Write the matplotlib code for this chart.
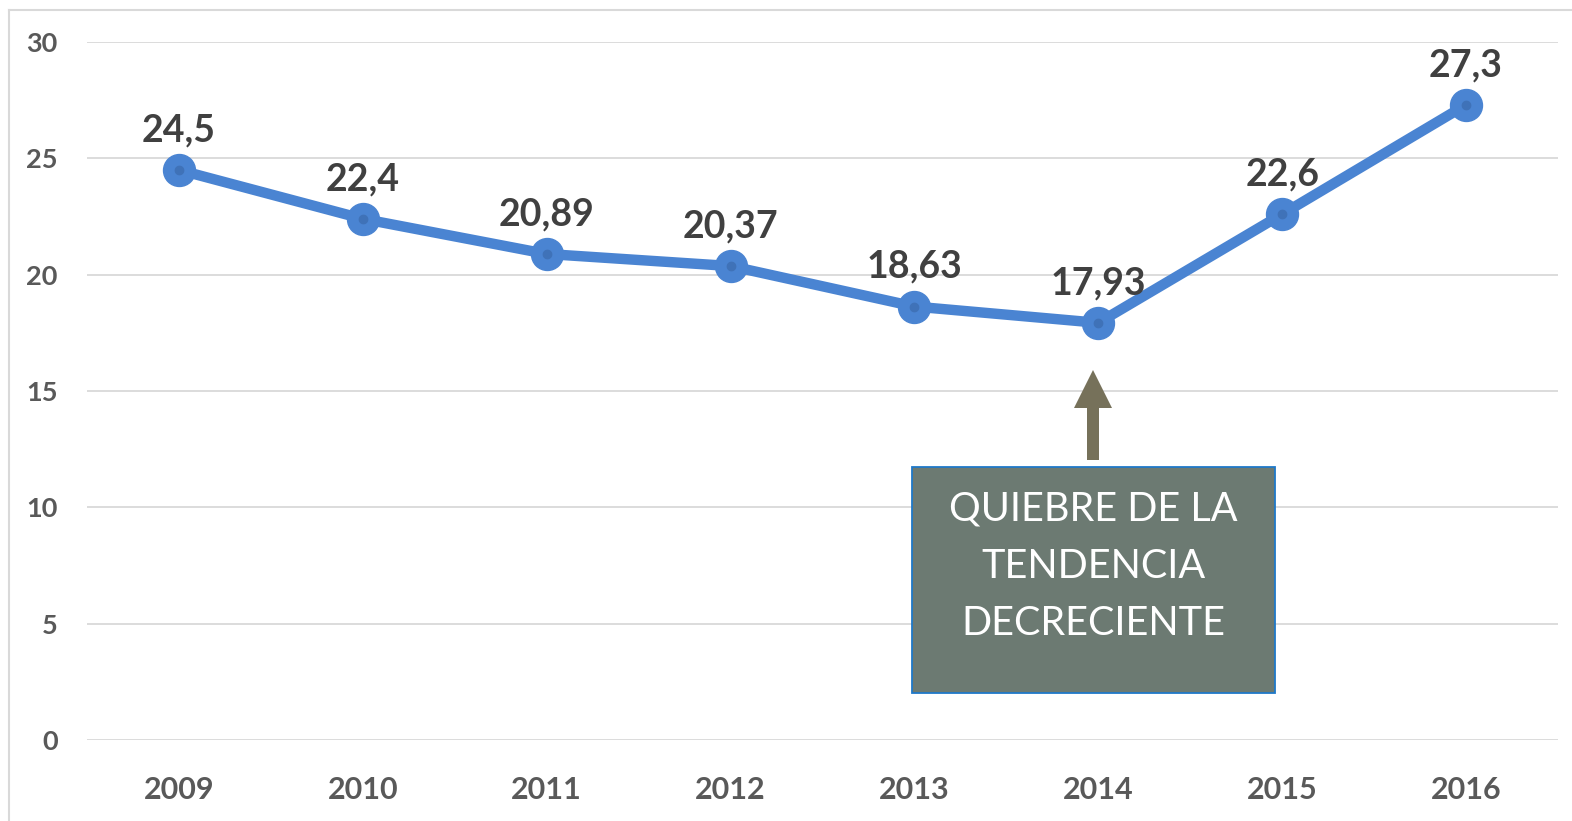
import matplotlib
matplotlib.use("Agg")
import matplotlib.pyplot as plt
from matplotlib.lines import Line2D
from matplotlib.patches import Rectangle, Polygon

years = ["2009", "2010", "2011", "2012", "2013", "2014", "2015", "2016"]
values = [24.5, 22.4, 20.89, 20.37, 18.63, 17.93, 22.6, 27.3]
value_labels = ["24,5", "22,4", "20,89", "20,37", "18,63", "17,93", "22,6", "27,3"]
y_ticks = [0, 5, 10, 15, 20, 25, 30]
note_text = "QUIEBRE DE LA\nTENDENCIA\nDECRECIENTE"

W, H = 1572, 821
fig = plt.figure(figsize=(W / 100, H / 100), dpi=100)
fig.patch.set_facecolor("white")


def fx(px):
    return px / W


def fy(py):
    return 1 - py / H


# outer frame (left and top edges visible)
fig.add_artist(Line2D([fx(9), fx(9)], [0, fy(10)], transform=fig.transFigure,
                      color="#d9d9d9", lw=1.5))
fig.add_artist(Line2D([fx(9), 1], [fy(10), fy(10)], transform=fig.transFigure,
                      color="#d9d9d9", lw=1.5))

left, right = fx(87), fx(1558)
bottom, top = fy(740), fy(42)
ax = fig.add_axes([left, bottom, right - left, top - bottom])

x = list(range(len(years)))
ax.set_xlim(-0.5, len(years) - 0.5)
ax.set_ylim(0, 30)
ax.set_yticks(y_ticks)
ax.set_xticks(x)
ax.set_xticklabels(years)
ax.yaxis.grid(True, color="#d9d9d9", lw=1.3)
ax.set_axisbelow(True)
for s in ax.spines.values():
    s.set_visible(False)
ax.tick_params(axis="both", length=0, colors="#595959")
ax.tick_params(axis="y", pad=21)
ax.tick_params(axis="x", pad=26)
for lab in ax.get_yticklabels():
    lab.set_fontfamily("Lato")
    lab.set_fontsize(19.5)
    lab.set_fontweight("bold")
for lab in ax.get_xticklabels():
    lab.set_fontfamily("Lato")
    lab.set_fontsize(22)
    lab.set_fontweight("bold")

blue = "#4a84d2"
ax.plot(x, values, color=blue, lw=7.5, solid_capstyle="round", zorder=3)
ax.plot(x, values, "o", color=blue, markersize=23, zorder=4)
ax.plot(x, values, "o", color="#3f72b8", markersize=6, zorder=5)

for xi, v, t in zip(x, values, value_labels):
    ax.annotate(t, (xi, v), xytext=(0, 28.5), textcoords="offset points",
                ha="center", va="center", fontsize=27, fontweight="bold",
                fontfamily="Lato", color="#404040", zorder=6)

# arrow
arrow_color = "#76715a"
fig.add_artist(Rectangle((fx(1087), fy(460)), 12 / W, (460 - 406) / H,
                         transform=fig.transFigure, facecolor=arrow_color,
                         lw=0, zorder=10))
fig.add_artist(Polygon([[fx(1074), fy(408)], [fx(1112), fy(408)], [fx(1093), fy(370)]],
                       closed=True, transform=fig.transFigure,
                       facecolor=arrow_color, lw=0, zorder=10))

# note box
fig.add_artist(Rectangle((fx(912), fy(693)), (1275 - 912) / W, (693 - 467) / H,
                         transform=fig.transFigure, facecolor="#6c7a72",
                         edgecolor="#1f78c8", lw=1.3, zorder=10))
fig.text(fx(1093), fy(566), note_text, ha="center", va="center",
         fontsize=28.5, fontfamily="Lato", color="white", linespacing=1.68, zorder=11)

fig.savefig("out.png", dpi=100, facecolor="white")
